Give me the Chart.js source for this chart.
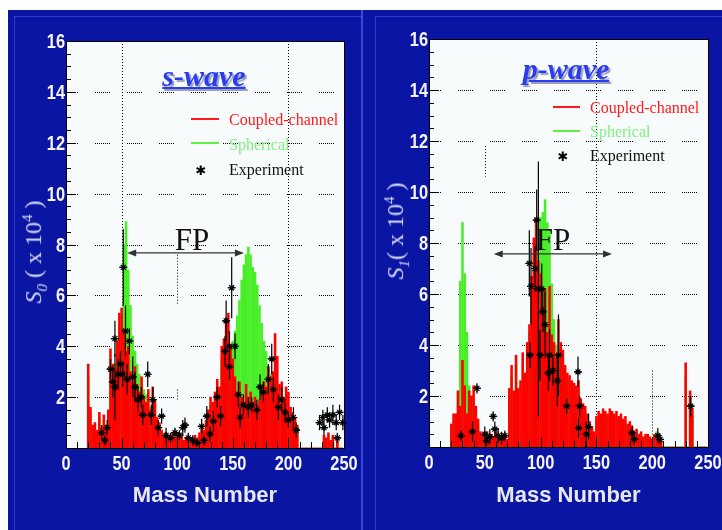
<!DOCTYPE html>
<html>
<head>
<meta charset="utf-8">
<script src="https://cdn.jsdelivr.net/npm/chart.js@4.4.1/dist/chart.umd.min.js"></script>
<style>
  body { margin: 0; width: 722px; height: 530px; background: #fff; position: relative; overflow: hidden; }
  .panel { position: absolute; top: 10px; height: 520px; background: #0a15a4; overflow: hidden; }
  .inner { position: absolute; left: 6px; top: 6px; width: 1000px; height: 1000px; border: 1px solid #2b3cd4; }
  .sep { position: absolute; left: 361px; top: 10px; width: 2px; height: 520px; background: #3848d8; }
  .box { position: absolute; top: 0; width: 361px; height: 530px; }
  .txt { position: absolute; white-space: nowrap; font-family: 'Liberation Serif', 'Times New Roman', serif; line-height: 1; }
  .wave { font-size: 30px; font-weight: bold; font-style: italic; color: #2a3cf2; text-decoration: underline;
          text-decoration-thickness: 2px; text-shadow: 2px 2px 1px #9aa0b8; transform: translateX(-50%); }
  .leg { font-size: 16px; }
  .line { position: absolute; height: 2px; }
  .star { position: absolute; font-family: 'DejaVu Sans', sans-serif; font-size: 13px; line-height: 1; transform: translate(-50%, -50%); color: #000; }
  .fp { font-size: 31px; color: #111; transform: translateX(-50%); }
  .ytitle { font-size: 24px; color: #d6dbf8; transform: translate(-50%, -50%) rotate(-90deg); }
  .ytitle sub, .ytitle sup { font-size: 15px; }
</style>
</head>
<body>
<div class="panel" style="left:8px; width:353px;"><div class="inner"></div></div>
<div class="panel" style="left:363px; width:359px;"><div class="inner" style="left:12px;"></div></div>
<div class="sep"></div>

<div class="box" style="left:0;"><canvas id="sChart"></canvas></div>
<div class="box" style="left:361px;"><canvas id="pChart"></canvas></div>

<!-- annotations, left panel -->
<div class="txt ytitle" style="left:35px; top:252px;"><i>S<sub>0</sub></i> ( x 10<sup>4</sup> )</div>
<div class="txt wave" style="left:204px; top:61px;">s-wave</div>
<div class="line" style="left:191px; top:118px; width:28px; background:#ff1a1a;"></div>
<div class="txt leg" style="left:229px; top:112px; color:#ff1a1a;">Coupled-channel</div>
<div class="line" style="left:191px; top:142px; width:28px; background:#5ef040;"></div>
<div class="txt leg" style="left:229px; top:137px; color:#80f080;">Spherical</div>
<div class="star" style="left:201px; top:170px;">✱</div>
<div class="txt leg" style="left:229px; top:162px; color:#111;">Experiment</div>
<div class="txt fp" style="left:192px; top:224px;">FP</div>

<!-- annotations, right panel -->
<div class="txt ytitle" style="left:397px; top:231px;"><i>S<sub>1</sub></i>( x 10<sup>4</sup> )</div>
<div class="txt wave" style="left:566px; top:54px;">p-wave</div>
<div class="line" style="left:553px; top:106px; width:27px; background:#ff1a1a;"></div>
<div class="txt leg" style="left:590px; top:100px; color:#ff1a1a;">Coupled-channel</div>
<div class="line" style="left:553px; top:130px; width:27px; background:#5ef040;"></div>
<div class="txt leg" style="left:590px; top:124px; color:#80f080;">Spherical</div>
<div class="star" style="left:563px; top:156px;">✱</div>
<div class="txt leg" style="left:590px; top:148px; color:#111;">Experiment</div>
<div class="txt fp" style="left:553px; top:224px;">FP</div>

<script>
// mass numbers of the calculated bars
const massNumbers = [
  20, 22, 24, 26, 28, 30, 32, 34, 36, 38,
  40, 42, 44, 46, 48, 50, 52, 54, 56, 58,
  60, 62, 64, 66, 68, 70, 72, 74, 76, 78,
  80, 82, 84, 86, 88, 90, 92, 94, 96, 98,
  100, 102, 104, 106, 108, 110, 112, 114, 116, 118,
  120, 122, 124, 126, 128, 130, 132, 134, 136, 138,
  140, 142, 144, 146, 148, 150, 152, 154, 156, 158,
  160, 162, 164, 166, 168, 170, 172, 174, 176, 178,
  180, 182, 184, 186, 188, 190, 192, 194, 196, 198,
  200, 202, 204, 206, 208, 210, 212, 214, 216, 218,
  220, 222, 224, 226, 228, 230, 232, 234, 236, 238,
  240, 242, 244, 246, 248
];

// axis tick labels
const xTickValues = [0, 50, 100, 150, 200, 250];
const yTickValues = [2, 4, 6, 8, 10, 12, 14, 16];

// s-wave strength function (x 10^4)
const sRed = [
  3.3, 1.6, 0.9, 1.0, 0.7, 1.4, 0.8, 1.3, 0.9, 1.5,
  3.9, 3.3, 3.1, 4.2, 5.3, 5.5, 4.6, 3.8, 4.0, 3.0,
  2.6, 3.2, 2.5, 2.2, 2.8, 2.0, 1.8, 2.3, 1.5, 2.4,
  1.9, 1.2, 1.0, 0.7, 0.5, 0.6, 0.4, 0.5, 0.6, 0.4,
  0.5, 0.6, 0.5, 0.3, 0.4, 0.3, 0.4, 0.3, 0.5, 0.4,
  0.6, 0.8, 0.7, 1.1, 1.5, 2.0, 1.8, 2.2, 2.7, 2.4,
  4.0, 4.3, 5.1, 5.3, 4.0, 3.5, 2.8, 2.2, 2.6, 2.0,
  1.8, 2.5, 2.0, 2.2, 1.8, 2.0, 1.7, 1.9, 2.3, 2.6,
  2.4, 3.2, 2.8, 3.0, 4.5, 3.6, 2.5, 2.6, 2.0, 2.4,
  2.2, 1.6, 1.4, 1.2, 0.9, 0, 0, 0, 0, 0,
  0, 0, 0, 0, 0, 0, 0.5, 0.4, 0.6, 0.3,
  0.5, 0, 0.4, 0, 0
];
const sGreen = [
  2.8, 1.4, 0.8, 0.9, 0.6, 1.2, 0.7, 1.1, 0.8, 1.3,
  3.0, 3.0, 3.3, 3.6, 4.8, 4.5, 8.0, 8.9, 7.0, 5.6,
  4.4, 3.8, 3.3, 2.9, 2.6, 2.3, 2.1, 2.0, 1.6, 1.9,
  1.7, 1.1, 0.9, 0.6, 0.5, 0.5, 0.4, 0.4, 0.5, 0.4,
  0.4, 0.5, 0.4, 0.3, 0.3, 0.3, 0.3, 0.3, 0.4, 0.4,
  0.5, 0.7, 0.6, 1.0, 1.3, 1.7, 1.6, 2.0, 2.4, 2.2,
  3.4, 3.6, 3.8, 4.0, 3.9, 4.2, 4.6, 5.2, 5.8, 6.6,
  7.2, 7.6, 7.9, 7.6, 7.1, 6.9, 6.4, 5.6, 4.9, 4.2,
  3.8, 3.2, 2.9, 2.6, 2.4, 2.2, 2.0, 1.8, 1.5, 1.4,
  1.3, 1.2, 1.0, 0.8, 0.6, 0, 0, 0, 0, 0,
  0, 0, 0, 0, 0, 0, 0.4, 0.3, 0.5, 0.3,
  0.4, 0, 0.3, 0, 0
];
const sExpA = [32, 35, 37, 40, 42, 44, 44, 47, 49, 51, 51.5, 53.5, 55, 57, 60, 62, 64.7, 67.7, 69, 73.5,
  76.7, 78, 83, 86, 90, 94, 98, 102, 105, 107, 110, 114, 118, 122, 124, 126.6, 129.6, 132.6, 136, 139,
  143, 144, 147, 147, 149, 152, 155, 156.6, 159.6, 164, 167, 171.6, 174.5, 177.5, 182, 185, 186.5, 191, 194, 197,
  200, 204.5, 207, 228, 231, 232, 235, 237, 240, 243, 244, 246, 249];
const sExpY = [0.6, 0.3, 0.8, 3.1, 2.6, 2.4, 4.3, 2.9, 3.3, 2.9, 7.1, 4.6, 2.7, 4.2, 2.8, 2.4, 1.9, 2.0, 1.3, 2.9,
  1.3, 1.9, 0.8, 1.25, 0.5, 0.4, 0.6, 0.5, 0.8, 0.9, 0.4, 0.3, 0.2, 0.85, 0.3, 1.25, 0.55, 1.05, 2.0, 1.25,
  3.8, 5.0, 4.0, 3.2, 6.3, 4.0, 2.1, 1.2, 1.7, 1.6, 1.7, 1.5, 2.4, 2.2, 2.7, 3.5, 2.3, 1.6, 1.9, 1.4,
  1.1, 1.2, 0.7, 1.0, 1.2, 0.8, 1.3, 1.1, 1.3, 1.0, 0.4, 1.4, 1.0];
const sExpErr = [0.3, 0.2, 0.3, 0.4, 0.6, 1.3, 0.7, 0.6, 0.5, 0.5, 1.5, 1.0, 0.6, 0.5, 0.8, 0.6, 0.5, 0.4, 0.4, 0.5,
  0.4, 0.5, 0.3, 0.3, 0.3, 0.2, 0.2, 0.2, 0.3, 0.3, 0.2, 0.2, 0.15, 0.3, 0.2, 0.4, 0.3, 0.4, 0.4, 0.4,
  0.6, 0.8, 0.6, 0.5, 1.2, 0.5, 0.5, 0.4, 0.4, 0.4, 0.3, 0.4, 0.5, 0.4, 0.6, 0.6, 0.5, 0.5, 0.5, 0.4,
  0.3, 0.4, 0.3, 0.3, 0.3, 0.3, 0.3, 0.3, 0.4, 0.3, 0.2, 0.3, 0.3];

// p-wave strength function (x 10^4)
const pRed = [
  0.9, 1.3, 1.3, 2.2, 1.6, 3.4, 2.4, 1.3, 2.2, 2.0,
  2.4, 1.6, 1.1, 0.6, 0.5, 0.3, 0.6, 0.4, 0.5, 0.4,
  0.6, 0.5, 0.3, 0.5, 0.4, 0.3, 2.3, 3.2, 2.2, 3.6,
  2.3, 2.6, 3.7, 2.9, 4.1, 4.8, 6.7, 8.2, 9.0, 7.3,
  6.8, 5.5, 6.2, 4.5, 6.3, 4.4, 4.1, 3.5, 5.0, 4.1,
  3.8, 3.2, 2.9, 2.8, 2.6, 2.5, 2.4, 2.6, 1.9, 1.7,
  1.6, 1.3, 1.0, 0.8, 0.6, 1.2, 1.4, 1.3, 1.5, 1.4,
  1.3, 1.5, 1.4, 1.3, 1.4, 1.2, 1.3, 1.1, 1.2, 0.9,
  1.0, 0.8, 0.6, 0.7, 0.5, 0.6, 0.4, 0.5, 0.5, 0.4,
  0.3, 0.5, 0.4, 0.5, 0.3, 0, 0, 0, 0, 0,
  0, 0, 0, 0, 0, 3.3, 0, 2.2, 1.5, 0,
  0, 0, 0, 0, 0
];
const pGreen = [
  0.6, 1.0, 1.3, 2.2, 6.5, 8.8, 6.8, 4.5, 2.4, 2.0,
  1.8, 1.0, 0.9, 0.5, 0.4, 0.3, 0.4, 0.3, 0.4, 0.3,
  0.4, 0.4, 0.3, 0.4, 0.3, 0.3, 2.0, 2.8, 2.0, 3.2,
  2.1, 2.4, 3.3, 2.7, 3.8, 4.5, 6.0, 7.5, 7.0, 8.8,
  9.0, 9.2, 9.7, 8.8, 8.5, 6.4, 5.0, 4.0, 3.5, 2.8,
  3.4, 2.9, 2.6, 2.5, 2.3, 2.2, 2.1, 2.3, 1.7, 1.5,
  1.4, 1.1, 0.9, 0.7, 0.5, 1.0, 1.2, 1.1, 1.3, 1.2,
  1.1, 1.3, 1.2, 1.1, 1.2, 1.0, 1.1, 0.9, 1.0, 0.7,
  0.8, 0.6, 0.5, 0.6, 0.4, 0.5, 0.3, 0.4, 0.4, 0.3,
  0.2, 0.4, 0.6, 0.4, 0.2, 0, 0, 0, 0, 0,
  0, 0, 0, 0, 0, 2.8, 0, 1.9, 1.2, 0,
  0, 0, 0, 0, 0
];
const pExpA = [28.7, 39, 43, 50, 51.5, 54.5, 57.5, 59, 62, 65, 68, 89.9, 90.5, 91.4, 95, 96.5, 98, 99.5, 101, 102,
  104, 107, 108, 111, 115, 116, 123.3, 133.5, 135, 134, 141, 143, 182, 184, 205, 207, 234.5];
const pExpY = [0.45, 0.6, 2.3, 0.5, 0.25, 0.4, 1.2, 0.7, 0.45, 0.35, 0.45, 7.2, 3.6, 6.3, 7.0, 8.9, 6.2, 3.6, 6.2, 5.3,
  4.8, 2.9, 3.6, 3.0, 2.6, 3.6, 1.6, 2.95, 1.6, 0.75, 0.5, 0.8, 0.55, 0.3, 0.45, 0.3, 1.6];
const pExpErr = [0.2, 0.4, 0.2, 0.3, 0.2, 0.3, 0.2, 0.3, 0.3, 0.25, 0.2, 1.3, 0.5, 1.5, 0.9, 1.2, 5.0, 1.0, 1.0, 0.8,
  1.3, 0.7, 1.0, 0.6, 1.0, 1.6, 0.3, 0.6, 0.4, 0.4, 0.5, 0.5, 0.3, 0.2, 0.3, 0.2, 0.4];

// FP arrows: [from, to] in mass number, and height
const sFpRange = [55, 160], sFpLevel = 7.67;
const pFpRange = [58, 164], pFpLevel = 7.57;

const hDash = [1, 1, 1, 1, 1, 1, 1, 1, 1, 1, 1, 1, 1, 1, 1, 17];

const framePlugin = {
  id: 'frame',
  beforeDatasetsDraw(chart, args, opts) {
    const { ctx, chartArea: a, scales: { x, y } } = chart;
    ctx.save();
    ctx.fillStyle = '#f7fbfb';
    ctx.fillRect(a.left, a.top, a.width, a.height);
    ctx.strokeStyle = '#000';
    ctx.lineWidth = 1;
    // dotted horizontal grid
    ctx.setLineDash(hDash);
    ctx.lineDashOffset = 3;
    for (let v = 2; v < 16; v += 2) {
      const py = Math.round(y.getPixelForValue(v)) + 0.5;
      ctx.beginPath(); ctx.moveTo(a.left, py); ctx.lineTo(a.right, py); ctx.stroke();
    }
    // dotted vertical grid (the parts that show in the picture)
    ctx.setLineDash([1, 2]);
    ctx.lineDashOffset = 0;
    opts.vLines.forEach(([xv, y0, y1]) => {
      const px = Math.round(x.getPixelForValue(xv)) + 0.5;
      ctx.beginPath(); ctx.moveTo(px, y.getPixelForValue(y1)); ctx.lineTo(px, y.getPixelForValue(y0)); ctx.stroke();
    });
    ctx.restore();
  },
  afterDatasetsDraw(chart, args, opts) {
    const { ctx, chartArea: a, scales: { x, y } } = chart;
    ctx.save();
    // error bars
    ctx.strokeStyle = '#000';
    ctx.lineWidth = 1.2;
    opts.expA.forEach((m, i) => {
      const px = x.getPixelForValue(m);
      const py = y.getPixelForValue(opts.expY[i]);
      const top = y.getPixelForValue(opts.expY[i] + opts.expErr[i]);
      const bot = Math.min(a.bottom, y.getPixelForValue(opts.expY[i] - opts.expErr[i]));
      ctx.beginPath();
      ctx.moveTo(px, top); ctx.lineTo(px, bot);
      ctx.moveTo(px - 4, py); ctx.lineTo(px + 4, py);
      ctx.stroke();
    });
    // FP arrow
    const [f0, f1] = opts.fpRange;
    const ax0 = x.getPixelForValue(f0), ax1 = x.getPixelForValue(f1), ay = y.getPixelForValue(opts.fpLevel);
    ctx.strokeStyle = '#333'; ctx.fillStyle = '#333'; ctx.lineWidth = 1.3;
    ctx.beginPath(); ctx.moveTo(ax0 + 4, ay); ctx.lineTo(ax1 - 4, ay); ctx.stroke();
    ctx.beginPath(); ctx.moveTo(ax0, ay); ctx.lineTo(ax0 + 9, ay - 3.5); ctx.lineTo(ax0 + 9, ay + 3.5); ctx.closePath(); ctx.fill();
    ctx.beginPath(); ctx.moveTo(ax1, ay); ctx.lineTo(ax1 - 9, ay - 3.5); ctx.lineTo(ax1 - 9, ay + 3.5); ctx.closePath(); ctx.fill();
    // inner tick marks
    ctx.strokeStyle = '#000'; ctx.lineWidth = 1;
    ctx.beginPath();
    for (let v = 0.5; v < 16; v += 0.5) {
      const py = Math.round(y.getPixelForValue(v)) + 0.5;
      ctx.moveTo(a.left, py); ctx.lineTo(a.left + (v % 2 === 0 ? 10 : 5), py);
    }
    for (let m = 10; m < 250; m += 10) {
      const px = Math.round(x.getPixelForValue(m)) + 0.5;
      ctx.moveTo(px, a.bottom); ctx.lineTo(px, a.bottom - (m % 50 === 0 ? 10 : 6));
    }
    ctx.stroke();
    // plot border
    ctx.strokeRect(Math.round(a.left) + 0.5, Math.round(a.top) + 0.5, Math.round(a.width), Math.round(a.height));
    ctx.restore();
  },
  afterDraw(chart) {
    // narrow bold tick labels, placed through the scales
    const { ctx, chartArea: a, scales: { x, y } } = chart;
    ctx.save();
    ctx.fillStyle = '#f4f4fa';
    ctx.font = "bold 21px 'Liberation Sans', Arial, sans-serif";
    ctx.textBaseline = 'alphabetic';
    ctx.textAlign = 'right';
    yTickValues.forEach(v => {
      ctx.save();
      ctx.translate(a.left - 1, y.getPixelForValue(v) + 7);
      ctx.scale(0.78, 1);
      ctx.fillText(String(v), 0, 0);
      ctx.restore();
    });
    ctx.textAlign = 'center';
    xTickValues.forEach(v => {
      ctx.save();
      ctx.translate(x.getPixelForValue(v), a.bottom + 22);
      ctx.scale(0.78, 1);
      ctx.fillText(String(v), 0, 0);
      ctx.restore();
    });
    ctx.restore();
  }
};

function makeChart(id, red, green, expA, expY, expErr, geom, frameOpts) {
  return new Chart(document.getElementById(id), {
    type: 'bar',
    data: {
      datasets: [
        {
          type: 'scatter', label: 'Experiment',
          data: expA.map((m, i) => ({ x: m, y: expY[i] })),
          pointStyle: 'star', pointRadius: 3.5, borderColor: '#000', borderWidth: 1.2, order: 0
        },
        {
          label: 'Coupled-channel',
          data: massNumbers.map((m, i) => ({ x: m, y: red[i] })),
          backgroundColor: '#ff0000', borderWidth: 0, barThickness: 1.9, grouped: false, order: 1
        },
        {
          label: 'Spherical',
          data: massNumbers.map((m, i) => ({ x: m, y: green[i] })),
          backgroundColor: '#48ee26', borderWidth: 0, barThickness: 1.9, grouped: false, order: 2
        }
      ]
    },
    options: {
      responsive: true,
      maintainAspectRatio: false,
      animation: false,
      layout: { padding: { top: geom.top, right: geom.right, left: 0, bottom: 0 } },
      plugins: {
        legend: { display: false },
        tooltip: { enabled: false },
        frame: Object.assign({ expA: expA, expY: expY, expErr: expErr }, frameOpts)
      },
      scales: {
        x: {
          type: 'linear', min: 0, max: 250, offset: false,
          grid: { display: false, drawTicks: false },
          border: { display: false },
          ticks: { display: false, stepSize: 50 },
          title: {
            display: true, text: 'Mass Number', color: '#e6e8f2',
            font: { family: "'Liberation Sans', Arial, sans-serif", weight: 'bold', size: 22 },
            padding: { top: 0, bottom: 21 }
          },
          afterFit(scale) { scale.height = geom.xHeight; }
        },
        y: {
          min: 0, max: 16,
          grid: { display: false, drawTicks: false },
          border: { display: false },
          ticks: { display: false, stepSize: 2 },
          afterFit(scale) { scale.width = geom.yWidth; }
        }
      }
    },
    plugins: [framePlugin]
  });
}

makeChart('sChart', sRed, sGreen, sExpA, sExpY, sExpErr,
  { top: 41, right: 17, yWidth: 66, xHeight: 82 },
  { vLines: [[50, 0, 16], [200, 0, 16], [100, 5.6, 7.6], [100, 1.9, 2.3]], fpRange: sFpRange, fpLevel: sFpLevel });

makeChart('pChart', pRed, pGreen, pExpA, pExpY, pExpErr,
  { top: 39, right: 14, yWidth: 68, xHeight: 83 },
  { vLines: [[150, 0, 16], [50, 10.6, 11.8], [200, 0.5, 3.0]], fpRange: pFpRange, fpLevel: pFpLevel });
</script>
</body>
</html>
